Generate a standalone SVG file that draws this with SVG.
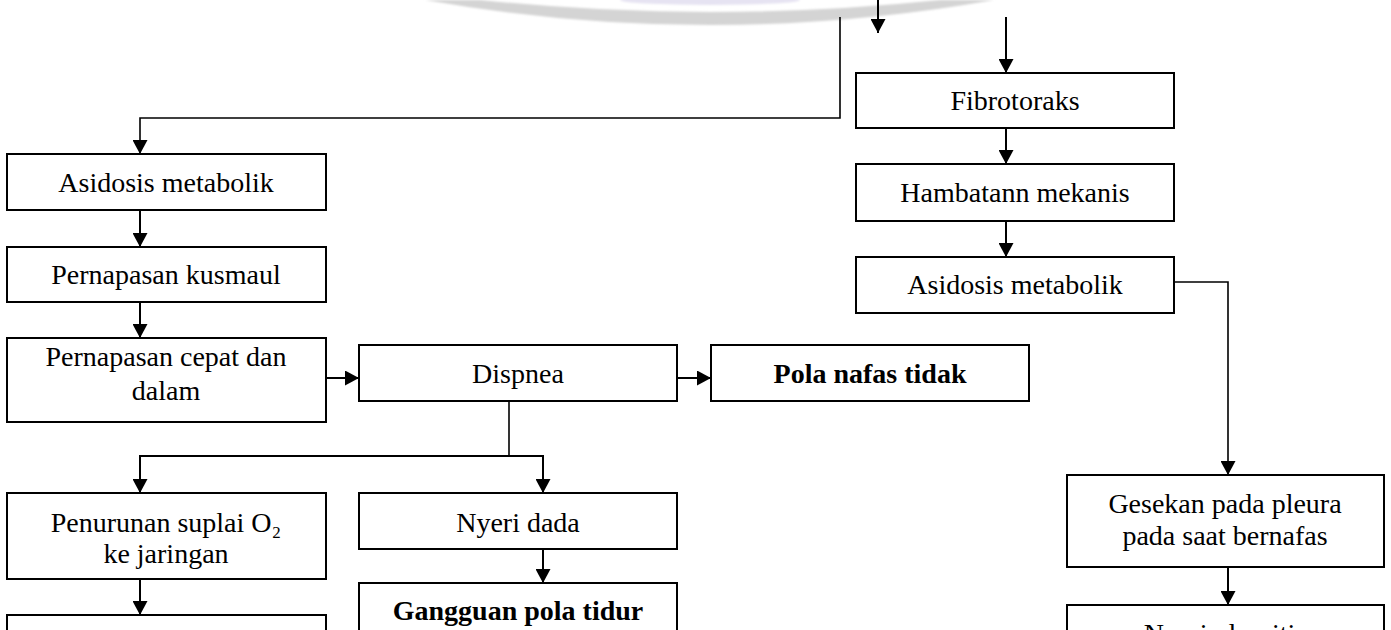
<svg xmlns="http://www.w3.org/2000/svg" width="1391" height="630" viewBox="0 0 1391 630">
<style>
.box{fill:#fff;stroke:#000;stroke-width:2}
.t{font-family:"Liberation Serif","Times New Roman",serif;font-size:28px;fill:#000;text-anchor:middle}
.b{font-weight:bold}
.c{fill:none;stroke:#000;stroke-width:2}
.thin{stroke-width:1.6}
</style>
<defs>
<marker id="ah" viewBox="0 0 14 15" refX="14" refY="7.5" markerWidth="14" markerHeight="15" markerUnits="userSpaceOnUse" orient="auto">
<path d="M0,0 L14,7.5 L0,15 z" fill="#000"/>
</marker>
<filter id="soft" x="-5%" y="-50%" width="110%" height="200%"><feGaussianBlur stdDeviation="1.2"/></filter>
</defs>
<rect width="1391" height="630" fill="#fff"/>
<g id="watermark" filter="url(#soft)">
<ellipse cx="710" cy="0" rx="90" ry="5" fill="#e6e3f2"/>
<path d="M425,0 Q710,50 994,0 L940,0 Q710,24 480,0 z" fill="#d4d4d4"/>
</g>
<g id="connectors">
<path class="c thin" d="M840,17 V118 H140 V154" marker-end="url(#ah)"/>
<path class="c" d="M878,0 V33" marker-end="url(#ah)"/>
<path class="c" d="M1006,17 V73" marker-end="url(#ah)"/>
<path class="c" d="M1006,128 V164" marker-end="url(#ah)"/>
<path class="c" d="M1006,221 V257" marker-end="url(#ah)"/>
<path class="c thin" d="M1174,282 H1228 V475" marker-end="url(#ah)"/>
<path class="c" d="M1228,567 V605" marker-end="url(#ah)"/>
<path class="c" d="M140,210 V247" marker-end="url(#ah)"/>
<path class="c" d="M140,302 V338" marker-end="url(#ah)"/>
<path class="c" d="M326,378 H359" marker-end="url(#ah)"/>
<path class="c" d="M677,378 H711" marker-end="url(#ah)"/>
<path class="c thin" d="M509,401 V456"/>
<path class="c" d="M140,456 H543"/>
<path class="c" d="M140,455 V493" marker-end="url(#ah)"/>
<path class="c" d="M543,455 V493" marker-end="url(#ah)"/>
<path class="c" d="M543,549 V583" marker-end="url(#ah)"/>
<path class="c" d="M140,579 V615" marker-end="url(#ah)"/>
</g>
<g id="n-fibrotoraks"><rect class="box" x="856" y="73" width="318" height="55"/><text class="t" x="1015" y="110">Fibrotoraks</text></g>
<g id="n-hambatann"><rect class="box" x="856" y="164" width="318" height="57"/><text class="t" x="1015" y="202">Hambatann mekanis</text></g>
<g id="n-asidosis-right"><rect class="box" x="856" y="257" width="318" height="56"/><text class="t" x="1015" y="294">Asidosis metabolik</text></g>
<g id="n-asidosis-left"><rect class="box" x="7" y="154" width="319" height="56"/><text class="t" x="166" y="192">Asidosis metabolik</text></g>
<g id="n-kusmaul"><rect class="box" x="7" y="247" width="319" height="55"/><text class="t" x="166" y="284">Pernapasan kusmaul</text></g>
<g id="n-cepat"><rect class="box" x="7" y="338" width="319" height="84"/><text class="t" x="166" y="366">Pernapasan cepat dan</text><text class="t" x="166" y="400">dalam</text></g>
<g id="n-dispnea"><rect class="box" x="359" y="345" width="318" height="56"/><text class="t" x="518" y="383">Dispnea</text></g>
<g id="n-pola-nafas"><rect class="box" x="711" y="345" width="318" height="56"/><text class="t b" x="870" y="383">Pola nafas tidak</text></g>
<g id="n-penurunan"><rect class="box" x="7" y="493" width="319" height="86"/><text class="t" x="166" y="532">Penurunan suplai O₂</text><text class="t" x="166" y="563">ke jaringan</text></g>
<g id="n-nyeri-dada"><rect class="box" x="359" y="493" width="318" height="56"/><text class="t" x="518" y="532">Nyeri dada</text></g>
<g id="n-gangguan"><rect class="box" x="359" y="583" width="318" height="60"/><text class="t b" x="518" y="620">Gangguan pola tidur</text></g>
<g id="n-bottom-left"><rect class="box" x="7" y="615" width="319" height="40"/></g>
<g id="n-gesekan"><rect class="box" x="1067" y="475" width="317" height="92"/><text class="t" x="1225" y="513">Gesekan pada pleura</text><text class="t" x="1225" y="545">pada saat bernafas</text></g>
<g id="n-nyeri-pleuritis"><rect class="box" x="1067" y="605" width="317" height="50"/><text class="t" x="1225" y="643">Nyeri pleuritis</text></g>
</svg>
